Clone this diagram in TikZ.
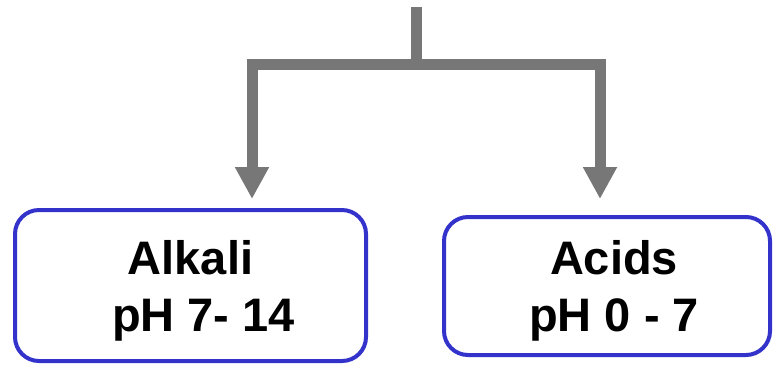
\documentclass[tikz,border=0pt]{standalone}
\usepackage{fontspec}
\setmainfont{Liberation Sans}
\usetikzlibrary{arrows.meta}
\definecolor{arrowgray}{HTML}{777777}
\definecolor{boxblue}{HTML}{3333CC}

\begin{document}
\begin{tikzpicture}[x=0.5pt,y=-0.5pt,
		phbox/.style={draw=boxblue, line width=2pt, rounded corners=12pt, align=center, font=\bfseries\fontsize{23.5}{28.5}\selectfont},
		branch/.style={draw=arrowgray, line width=5.5pt},
		downtip/.style={-{Triangle[width=16pt,length=16pt]}}]
		\useasboundingbox (0,0) rectangle (774,365);
		    \begin{scope}
					\node[phbox, minimum width=175.5pt, minimum height=75.5pt] (alkali) at (190.5,285.5) {\rule{0pt}{22pt}Alkali\\\hspace*{0.55em}pH 7- 14};
					\node[phbox, minimum width=163pt, minimum height=69pt] (acids) at (607,286) {\rule{0pt}{22pt}\hspace*{7pt}Acids\\\hspace*{7pt}pH 0 - 7};

					\coordinate (stem) at (416,7);
					\coordinate (fork) at (416,64);
					\coordinate (alkalitip) at (252,199);
					\coordinate (acidstip) at (600,199);

					\draw[branch] (stem) -- (fork); % stem
					\draw[branch, downtip] (fork) -| (alkalitip); % to alkali
					\draw[branch, downtip] (fork) -| (acidstip); % to acids
		    \end{scope}
		  \end{tikzpicture}
\end{document}
